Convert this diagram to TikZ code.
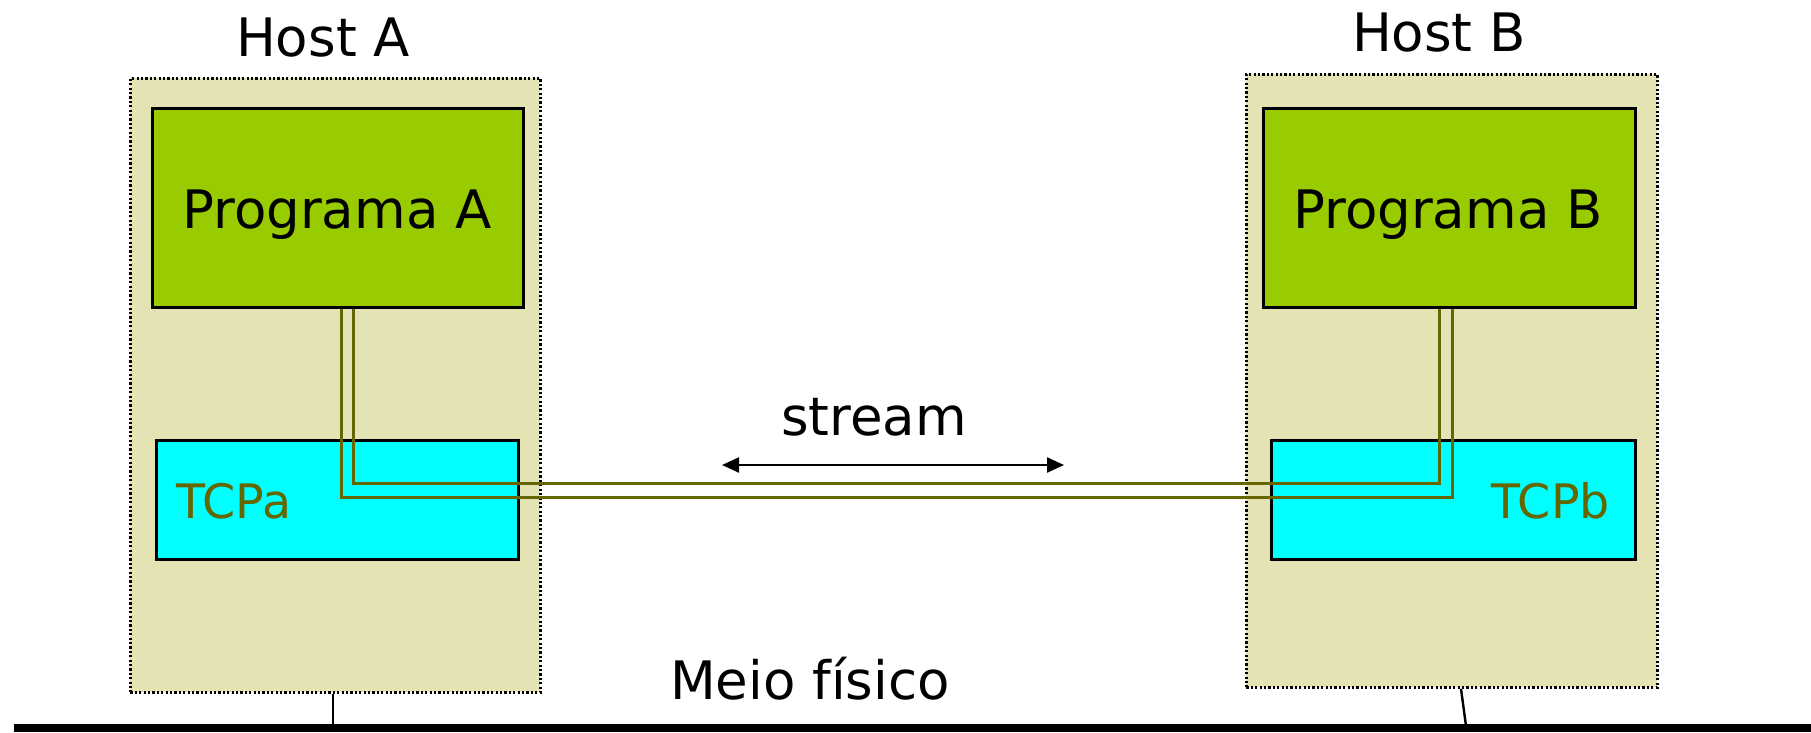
\documentclass[tikz,border=0pt]{standalone}
\usepackage{fontspec}
\setmainfont{DejaVu Sans}
\usetikzlibrary{arrows.meta}
\definecolor{hostfill}{HTML}{E3E3B3}
\definecolor{progfill}{HTML}{99CC00}
\definecolor{tcpfill}{HTML}{00FFFF}
\definecolor{olivec}{HTML}{666600}
\begin{document}
\begin{tikzpicture}[x=1pt,y=-1pt,
  hostbox/.style={draw=black, fill=hostfill, line width=2.8pt,
    dash pattern=on 2.2pt off 2.2pt, anchor=north west, inner sep=0pt},
  progbox/.style={draw=black, fill=progfill, line width=3pt,
    anchor=north west, inner sep=0pt},
  tcpbox/.style={draw=black, fill=tcpfill, line width=3pt,
    anchor=north west, inner sep=0pt},
  bigtext/.style={font=\fontsize{53}{60}\selectfont, inner sep=0pt, anchor=base},
  tcptext/.style={font=\fontsize{47.5}{54}\selectfont, text=olivec, inner sep=0pt},
  pipe/.style={draw=olivec, line width=3pt},
  wire/.style={draw=black, line width=2.4pt},
]
\useasboundingbox (0,0) rectangle (1811,732);

% hosts
\node[hostbox, minimum width=410pt, minimum height=614pt] (hA) at (129,77) {};
\node[hostbox, minimum width=411pt, minimum height=613pt] (hB) at (1245,73) {};

% applications
\node[progbox, minimum width=371pt, minimum height=199pt] (pA) at (151,107) {};
\node[progbox, minimum width=372pt, minimum height=199pt] (pB) at (1262,107) {};
\node[bigtext] (pAt) at (337,228) {Programa A};
\node[bigtext] (pBt) at (1448,228) {Programa B};

% TCP layers
\node[tcpbox, minimum width=362pt, minimum height=119pt] (tA) at (155,439) {};
\node[tcpbox, minimum width=364pt, minimum height=119pt] (tB) at (1270,439) {};
\node[tcptext, anchor=base west] (tAt) at (176,518) {TCPa};
\node[tcptext, anchor=base east] (tBt) at (1610,518) {TCPb};

% host titles
\node[bigtext] (hAt) at (323,56) {Host A};
\node[bigtext] (hBt) at (1439,51) {Host B};

% double pipe connecting the two programs
\draw[pipe] (pA.south -| 341,0) |- (1452,497) -- (pB.south -| 1452,0);
\draw[pipe] (pA.south -| 353,0) |- (1439,483) -- (pB.south -| 1439,0);

% stream
\node[bigtext] (st) at (874,435) {stream};
\coordinate (sL) at (722,465);
\coordinate (sR) at (1064,465);
\draw[wire, {Triangle[length=17pt,width=15pt]}-{Triangle[length=17pt,width=15pt]}] (sL) -- (sR);

% physical medium
\coordinate (busL) at (14,728);
\coordinate (busR) at (1811,728);
\draw[line width=8pt] (busL) -- (busR);
\node[bigtext] (mf) at (810,699) {Meio físico};
\coordinate (tapA) at (333,726);
\coordinate (tapB) at (1466,726);
\draw[wire] (hA.south -| tapA) -- (tapA);
\draw[wire] (hB.south -| 1461,0) -- (tapB);
\end{tikzpicture}
\end{document}
